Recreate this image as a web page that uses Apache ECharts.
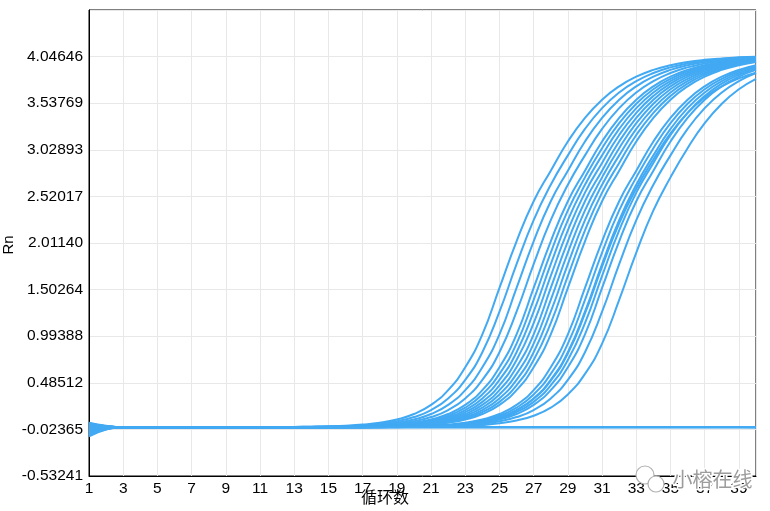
<!DOCTYPE html>
<html>
<head>
<meta charset="utf-8">
<script src="https://cdn.jsdelivr.net/npm/echarts@6/dist/echarts.min.js"></script>
<style>
html,body{margin:0;padding:0;background:#fff;}
#chart{width:770px;height:511px;}
</style>
</head>
<body>
<div id="chart"></div>
<script>
// Cycle numbers (x axis)
const cycles = [1,2,3,4,5,6,7,8,9,10,11,12,13,14,15,16,17,18,19,20,21,22,23,24,25,26,27,28,29,30,31,32,33,34,35,36,37,38,39,40];

// Y tick labels as shown on the reference (Rn)
const yTickLabels = ['-0.53241','-0.02365','0.48512','0.99388','1.50264','2.01140','2.52017','3.02893','3.53769','4.04646'];
const yMin = -0.53241;
const yStep = 0.50876;

// Amplification curves (Rn per cycle)
const well01 = [0.04,0.01,0,0,0,0,0,0,0,0,0,0.002,0.003,0.006,0.010,0.017,0.029,0.049,0.085,0.144,0.244,0.405,0.654,1.014,1.521,2.03,2.467,2.801,3.12,3.378,3.576,3.722,3.827,3.901,3.952,3.987,4.011,4.027,4.038,4.045];
const well02 = [-0.02,0,0,0,0,0,0,0,0,0,0,0,0.003,0.005,0.008,0.013,0.022,0.038,0.065,0.111,0.188,0.315,0.517,0.819,1.261,1.781,2.261,2.647,2.968,3.257,3.484,3.655,3.779,3.867,3.929,3.971,4.0,4.019,4.033,4.042];
const well03 = [0.02,0.005,0,0,0,0,0,0,0,0,0,0,0.002,0.003,0.006,0.010,0.017,0.029,0.049,0.085,0.144,0.244,0.405,0.654,1.014,1.521,2.03,2.467,2.801,3.12,3.378,3.576,3.722,3.827,3.901,3.952,3.987,4.011,4.027,4.038];
const well04 = [-0.06,-0.015,0,0,0,0,0,0,0,0,0,0,0,0.003,0.005,0.008,0.013,0.022,0.038,0.065,0.111,0.188,0.315,0.517,0.819,1.261,1.781,2.261,2.647,2.968,3.257,3.484,3.655,3.779,3.867,3.929,3.971,4.0,4.019,4.033];
const well05 = [0.03,0.01,0,0,0,0,0,0,0,0,0,0,0,0.002,0.003,0.006,0.010,0.017,0.029,0.049,0.085,0.144,0.244,0.405,0.654,1.014,1.521,2.03,2.467,2.801,3.12,3.378,3.576,3.722,3.827,3.901,3.952,3.987,4.011,4.027];
const well06 = [-0.08,-0.02,0,0,0,0,0,0,0,0,0,0,0,0,0.003,0.005,0.009,0.015,0.025,0.043,0.074,0.126,0.214,0.358,0.582,0.913,1.390,1.907,2.367,2.728,3.046,3.319,3.532,3.690,3.804,3.885,3.941,3.980,4.006,4.023];
const well07 = [0.01,0,0,0,0,0,0,0,0,0,0,0,0,0,0.003,0.005,0.008,0.013,0.022,0.038,0.065,0.111,0.188,0.315,0.517,0.819,1.261,1.781,2.261,2.647,2.968,3.257,3.484,3.655,3.779,3.867,3.929,3.971,4.0,4.019];
const well08 = [-0.04,-0.01,0,0,0,0,0,0,0,0,0,0,0,0,0,0.004,0.007,0.011,0.019,0.033,0.056,0.097,0.165,0.277,0.458,0.733,1.136,1.652,2.148,2.561,2.886,3.191,3.433,3.617,3.752,3.848,3.916,3.962,3.994,4.015];
const well09 = [0.05,0.015,0,0,0,0,0,0,0,0,0,0,0,0,0.002,0.003,0.006,0.010,0.017,0.029,0.049,0.085,0.144,0.244,0.405,0.654,1.014,1.521,2.03,2.467,2.801,3.12,3.378,3.576,3.722,3.827,3.901,3.952,3.987,4.011];
const well10 = [-0.03,-0.005,0,0,0,0,0,0,0,0,0,0,0,0,0,0.003,0.005,0.009,0.015,0.025,0.043,0.074,0.126,0.214,0.358,0.582,0.913,1.390,1.907,2.367,2.728,3.046,3.319,3.532,3.690,3.804,3.885,3.941,3.980,4.006];
const well11 = [0,0,0,0,0,0,0,0,0,0,0,0,0,0,0,0.003,0.005,0.008,0.013,0.022,0.038,0.065,0.111,0.188,0.315,0.517,0.819,1.261,1.781,2.261,2.647,2.968,3.257,3.484,3.655,3.779,3.867,3.929,3.971,4.0];
const well12 = [-0.1,-0.025,0,0,0,0,0,0,0,0,0,0,0,0,0,0,0.004,0.007,0.011,0.019,0.033,0.056,0.097,0.165,0.277,0.458,0.733,1.136,1.652,2.148,2.561,2.886,3.191,3.433,3.617,3.752,3.848,3.916,3.962,3.994];
const well13 = [0.025,0.005,0,0,0,0,0,0,0,0,0,0,0,0,0,0.002,0.003,0.006,0.010,0.017,0.029,0.049,0.085,0.144,0.244,0.405,0.654,1.014,1.521,2.03,2.467,2.801,3.12,3.378,3.576,3.722,3.827,3.901,3.952,3.987];
const well14 = [-0.05,-0.012,0,0,0,0,0,0,0,0,0,0,0,0,0,0,0.002,0.003,0.006,0.010,0.017,0.029,0.049,0.085,0.144,0.244,0.405,0.654,1.014,1.521,2.03,2.467,2.801,3.12,3.378,3.576,3.722,3.827,3.901,3.952];
const well15 = [0.035,0.01,0,0,0,0,0,0,0,0,0,0,0,0,0,0,0,0.003,0.005,0.009,0.015,0.025,0.043,0.074,0.126,0.214,0.358,0.582,0.913,1.390,1.907,2.367,2.728,3.046,3.319,3.532,3.690,3.804,3.885,3.941];
const well16 = [-0.07,-0.018,0,0,0,0,0,0,0,0,0,0,0,0,0,0,0,0.003,0.005,0.008,0.013,0.022,0.038,0.065,0.111,0.188,0.315,0.517,0.819,1.261,1.781,2.261,2.647,2.968,3.257,3.484,3.655,3.779,3.867,3.929];
const well17 = [0.02,0.004,0,0,0,0,0,0,0,0,0,0,0,0,0,0,0,0.003,0.005,0.008,0.013,0.022,0.037,0.064,0.109,0.185,0.31,0.509,0.807,1.242,1.754,2.227,2.607,2.923,3.208,3.432,3.6,3.722,3.809,3.87];
const well18 = [0.015,0.003,0,0,0,0,0,0,0,0,0,0,0,0,0,0,0,0,0.004,0.007,0.011,0.019,0.033,0.056,0.097,0.165,0.277,0.458,0.733,1.136,1.652,2.148,2.561,2.886,3.191,3.433,3.617,3.752,3.848,3.916];
const well19 = [-0.09,-0.022,0,0,0,0,0,0,0,0,0,0,0,0,0,0,0,0.002,0.003,0.006,0.010,0.017,0.029,0.049,0.085,0.144,0.244,0.405,0.654,1.014,1.521,2.03,2.467,2.801,3.12,3.378,3.576,3.722,3.827,3.901];
const well20 = [0.045,0.012,0,0,0,0,0,0,0,0,0,0,0,0,0,0,0,0,0.003,0.005,0.008,0.013,0.022,0.038,0.065,0.111,0.188,0.315,0.517,0.819,1.261,1.781,2.261,2.647,2.968,3.257,3.484,3.655,3.779,3.867];
const well21 = [-0.005,0,0,0,0,0,0,0,0,0,0,0,0,0,0,0,0,0,0,0.003,0.005,0.009,0.015,0.025,0.043,0.074,0.126,0.214,0.358,0.582,0.913,1.390,1.907,2.367,2.728,3.046,3.319,3.532,3.690,3.804];
// Negative controls (flat)
const ntc1 = [0.03,0.008,0,0.001,0,0,0.001,0,0,0,0.001,0,0,0,-0.001,0,0,0,0.001,0,0,0,0,-0.001,0,0,0,0,0.001,0,0,0,0,0,0.001,0,0,-0.001,0,0];
const ntc2 = [-0.045,-0.01,0,0,-0.001,0,0,0,0.001,0,0,0,0,0,0,0.001,0,0,0,-0.001,0,0,0,0,0,0.001,0,0,0,0,-0.001,0,0,0,0,0,0.001,0,0,-0.002];
const ntc3 = [0.005,0.002,0,0,0,0,0,-0.001,0,0,0,0,0.001,0,0,0,0,0,0,0,0.001,0,0,0,0,0,0,-0.001,0,0,0,0,0,0.001,0,0,0,0,0,-0.001];

const allWells = [ntc1,ntc2,ntc3,well01,well02,well03,well04,well05,well06,well07,well08,well09,well10,well11,well12,well13,well14,well15,well16,well17,well18,well19,well20,well21];

const lineColor = '#42A9F3';
const FONT = 'Liberation Sans, Arial, sans-serif';

// Axes are offset so that the first tick sits at 0 (cycle 1 -> 0, yMin -> 0)
const series = allWells.map(function (vals) {
  return {
    type: 'line',
    data: vals.map(function (v, i) { return [cycles[i] - cycles[0], v - yMin]; }),
    showSymbol: false,
    symbol: 'none',
    smooth: 0.5,
    lineStyle: { color: lineColor, width: 2 },
    emphasis: { disabled: true },
    silent: true,
    animation: false
  };
});

const chart = echarts.init(document.getElementById('chart'), null, { renderer: 'canvas' });
chart.setOption({
  animation: false,
  backgroundColor: '#fff',
  grid: { left: 89, right: 14, top: 10, bottom: 35, containLabel: false, outerBoundsMode: 'none', show: true, borderColor: '#000', borderWidth: 1, backgroundColor: 'transparent' },
  xAxis: {
    type: 'value',
    min: 0, max: cycles[cycles.length - 1] - cycles[0], interval: 2,
    axisLine: { show: true, lineStyle: { color: '#000', width: 1 } },
    axisTick: { show: false },
    splitLine: { show: true, lineStyle: { color: '#e8e8e8', width: 1 } },
    axisLabel: {
      color: '#000', fontFamily: FONT, fontSize: 15.5, margin: 5,
      formatter: function (v) { const r = Math.round(v); return (r % 2 === 0) ? String(r + cycles[0]) : ''; }
    }
  },
  yAxis: {
    type: 'value',
    min: 0, max: yStep * 10, interval: yStep,
    axisLine: { show: true, lineStyle: { color: '#000', width: 1 } },
    axisTick: { show: false },
    splitLine: { show: true, lineStyle: { color: '#e8e8e8', width: 1 } },
    axisLabel: {
      color: '#000', fontFamily: FONT, fontSize: 15.5, margin: 6,
      formatter: function (v) { const k = Math.round(v / yStep); return yTickLabels[k] || ''; }
    }
  },
  graphic: [
    { type: 'text', x: 9, y: 245, rotation: Math.PI / 2, z: 100, style: { text: 'Rn', fill: '#000', font: '15px "Liberation Sans", Arial, sans-serif', align: 'center', verticalAlign: 'middle' } },
    { type: 'text', left: 361, top: 489, z: 100, style: { text: '循环数', fill: '#000', font: '16px "Noto Sans CJK SC", sans-serif' } },
    { type: 'circle', z: 100, shape: { cx: 645, cy: 475, r: 9 }, style: { fill: '#fff', stroke: '#b0b0b0', lineWidth: 1.2 } },
    { type: 'circle', z: 101, shape: { cx: 656, cy: 484, r: 8 }, style: { fill: '#fff', stroke: '#b0b0b0', lineWidth: 1.2 } },
    { type: 'text', left: 671, top: 468, z: 102, style: { text: '小榕在线', fill: '#9c9c9c', stroke: '#fff', lineWidth: 3, font: '20px "Noto Sans CJK SC", sans-serif' } }
  ],
  series: series
});
</script>
</body>
</html>
